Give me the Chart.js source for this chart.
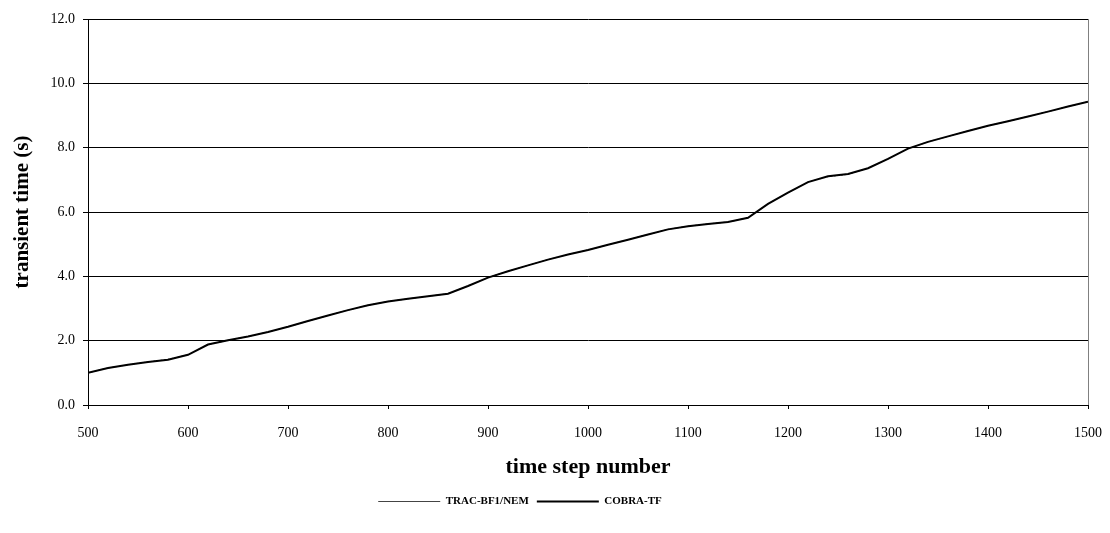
<!DOCTYPE html>
<html>
<head>
<meta charset="utf-8">
<script src="https://cdn.jsdelivr.net/npm/chart.js@4.4.0/dist/chart.umd.min.js"></script>
<style>
  html, body { margin: 0; padding: 0; background: #fff; }
  #wrap { width: 1110px; height: 533px; }
</style>
</head>
<body>
<div id="wrap"><canvas id="chart" width="1110" height="533"></canvas></div>
<script>
const steps = [500, 520, 540, 560, 580, 600, 620, 640, 660, 680, 700, 720, 740, 760, 780,
  800, 820, 840, 860, 880, 900, 920, 940, 960, 980, 1000, 1020, 1040, 1060, 1080,
  1100, 1120, 1140, 1160, 1180, 1200, 1220, 1240, 1260, 1280, 1300, 1320, 1340,
  1360, 1380, 1400, 1420, 1440, 1460, 1480, 1500];

const cobraTime = [1.00, 1.15, 1.25, 1.34, 1.41, 1.56, 1.88, 2.01, 2.13, 2.27, 2.43, 2.61, 2.78, 2.95, 3.10,
  3.22, 3.30, 3.38, 3.46, 3.70, 3.96, 4.16, 4.34, 4.52, 4.68, 4.82, 4.98, 5.14, 5.30, 5.46,
  5.56, 5.63, 5.69, 5.82, 6.25, 6.60, 6.93, 7.11, 7.18, 7.36, 7.65, 7.97, 8.18,
  8.35, 8.52, 8.68, 8.82, 8.97, 9.12, 9.28, 9.43];

const tracTime = [1.00, 1.15, 1.25, 1.34, 1.42, 1.56, 1.88, 2.01, 2.13, 2.27, 2.43, 2.61, 2.78, 2.95, 3.10,
  3.22, 3.30, 3.38, 3.46, 3.70, 3.96, 4.16, 4.34, 4.52, 4.68, 4.82, 4.98, 5.14, 5.30, 5.46,
  5.56, 5.63, 5.69, 5.82, 6.25, 6.60, 6.93, 7.10, 7.17, 7.36, 7.65, 7.97, 8.18,
  8.35, 8.52, 8.68, 8.82, 8.97, 9.12, 9.28, 9.43];

const seriesNames = ["TRAC-BF1/NEM", "COBRA-TF"];

const serif = "'Liberation Serif', 'Times New Roman', serif";

// right edge of the plot frame
const frameRight = {
  id: "frameRight",
  afterDraw(chart) {
    const { ctx, chartArea } = chart;
    ctx.save();
    ctx.strokeStyle = "#808080";
    ctx.lineWidth = 1;
    ctx.beginPath();
    ctx.moveTo(Math.round(chartArea.right) + 0.5, chartArea.top);
    ctx.lineTo(Math.round(chartArea.right) + 0.5, chartArea.bottom);
    ctx.stroke();
    ctx.restore();
  }
};

// legend sits a bit left of the page centre in the original
const legendShift = {
  id: "legendShift",
  afterLayout(chart) {
    const lg = chart.legend;
    if (!lg) return;
    lg.left -= 24;
    lg.right -= 24;
  }
};

const ctx = document.getElementById("chart").getContext("2d");
new Chart(ctx, {
  type: "line",
  data: {
    datasets: [{
      label: seriesNames[0],
      data: steps.map((s, i) => ({ x: s, y: tracTime[i] })),
      borderColor: "#444",
      borderWidth: 1,
      borderDash: [2, 1.5],
      pointRadius: 0,
      pointStyle: "line",
      tension: 0,
      fill: false,
      order: 1,
    }, {
      label: seriesNames[1],
      data: steps.map((s, i) => ({ x: s, y: cobraTime[i] })),
      borderColor: "#000",
      borderWidth: 2,
      pointRadius: 0,
      pointStyle: "line",
      tension: 0,
      fill: false,
      order: 0,
    }],
  },
  options: {
    responsive: false,
    animation: false,
    layout: { padding: { top: 19, right: 22, bottom: 16, left: 0 } },
    plugins: {
      tooltip: { enabled: false },
      legend: {
        position: "bottom",
        labels: {
          color: "#000",
          font: { family: serif, size: 11, weight: "bold" },
          usePointStyle: true,
          pointStyleWidth: 62,
          padding: 8,
          sort: (a, b) => a.datasetIndex - b.datasetIndex,
        },
      },
    },
    scales: {
      x: {
        type: "linear",
        min: 500,
        max: 1500,
        afterFit: (s) => { s.height = 83; s.paddingLeft = 0; s.paddingRight = 0; },
        ticks: {
          stepSize: 100,
          color: "#000",
          font: { family: serif, size: 14 },
          padding: 16,
          maxRotation: 0,
          callback: (v) => String(v),
        },
        grid: { drawOnChartArea: false, tickLength: 4, color: "#000" },
        border: { color: "#000", width: 1 },
        title: {
          display: true,
          text: "time step number",
          color: "#000",
          font: { family: serif, size: 22, weight: "bold" },
          padding: { top: 0, bottom: 7 },
        },
      },
      y: {
        min: 0,
        max: 12,
        afterFit: (s) => { s.width = 88; },
        ticks: {
          stepSize: 2,
          color: "#000",
          font: { family: serif, size: 14 },
          padding: 8,
          callback: (v) => v.toFixed(1),
        },
        grid: { color: "#000", tickLength: 5 },
        border: { color: "#000", width: 1 },
        title: {
          display: true,
          text: "transient time (s)",
          color: "#000",
          font: { family: serif, size: 21, weight: "bold" },
          padding: { top: 10, bottom: 0 },
        },
      },
    },
  },
  plugins: [frameRight, legendShift],
});
</script>
</body>
</html>
